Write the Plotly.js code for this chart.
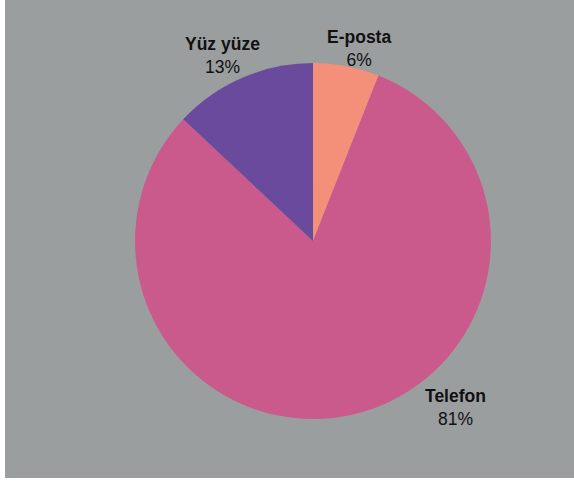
<!DOCTYPE html>
<html>
<head>
<meta charset="utf-8">
<script src="https://cdn.plot.ly/plotly-3.0.1.min.js"></script>
<style>
html, body { margin: 0; padding: 0; background: #ffffff; width: 574px; height: 481px; overflow: hidden; }
#chart { position: absolute; left: 5px; top: 0px; width: 569px; height: 478px; }
</style>
</head>
<body>
<div id="chart"></div>
<script>
const labels = ["E-posta", "Telefon", "Yüz yüze"];
const values = [6, 81, 13];
const colors = ["#F4907A", "#CB5A8C", "#6A4A9C"];
const labelX = [0.622, 0.791, 0.383];
const labelY = [0.899, 0.148, 0.884];

const data = [{
  type: "pie",
  labels: labels,
  values: values,
  sort: false,
  direction: "clockwise",
  rotation: 0,
  textinfo: "none",
  hoverinfo: "label+percent",
  marker: { colors: colors, line: { width: 0 } },
  domain: { x: [0.2285, 0.854], y: [0.1234, 0.868] },
  showlegend: false
}];

const annotations = labels.map((l, i) => ({
  xref: "paper", yref: "paper",
  x: labelX[i], y: labelY[i],
  xanchor: "center", yanchor: "middle",
  showarrow: false,
  align: "center",
  text: "<b>" + l + "</b><br>" + values[i] + "%",
  font: { family: "Liberation Sans, Arial, sans-serif", size: 17.5, color: "#111111" }
}));

const layout = {
  width: 569, height: 478,
  margin: { l: 0, r: 0, t: 0, b: 0 },
  paper_bgcolor: "#9B9E9F",
  plot_bgcolor: "#9B9E9F",
  showlegend: false,
  annotations: annotations
};

Plotly.newPlot("chart", data, layout, { displayModeBar: false, staticPlot: true });
</script>
</body>
</html>
